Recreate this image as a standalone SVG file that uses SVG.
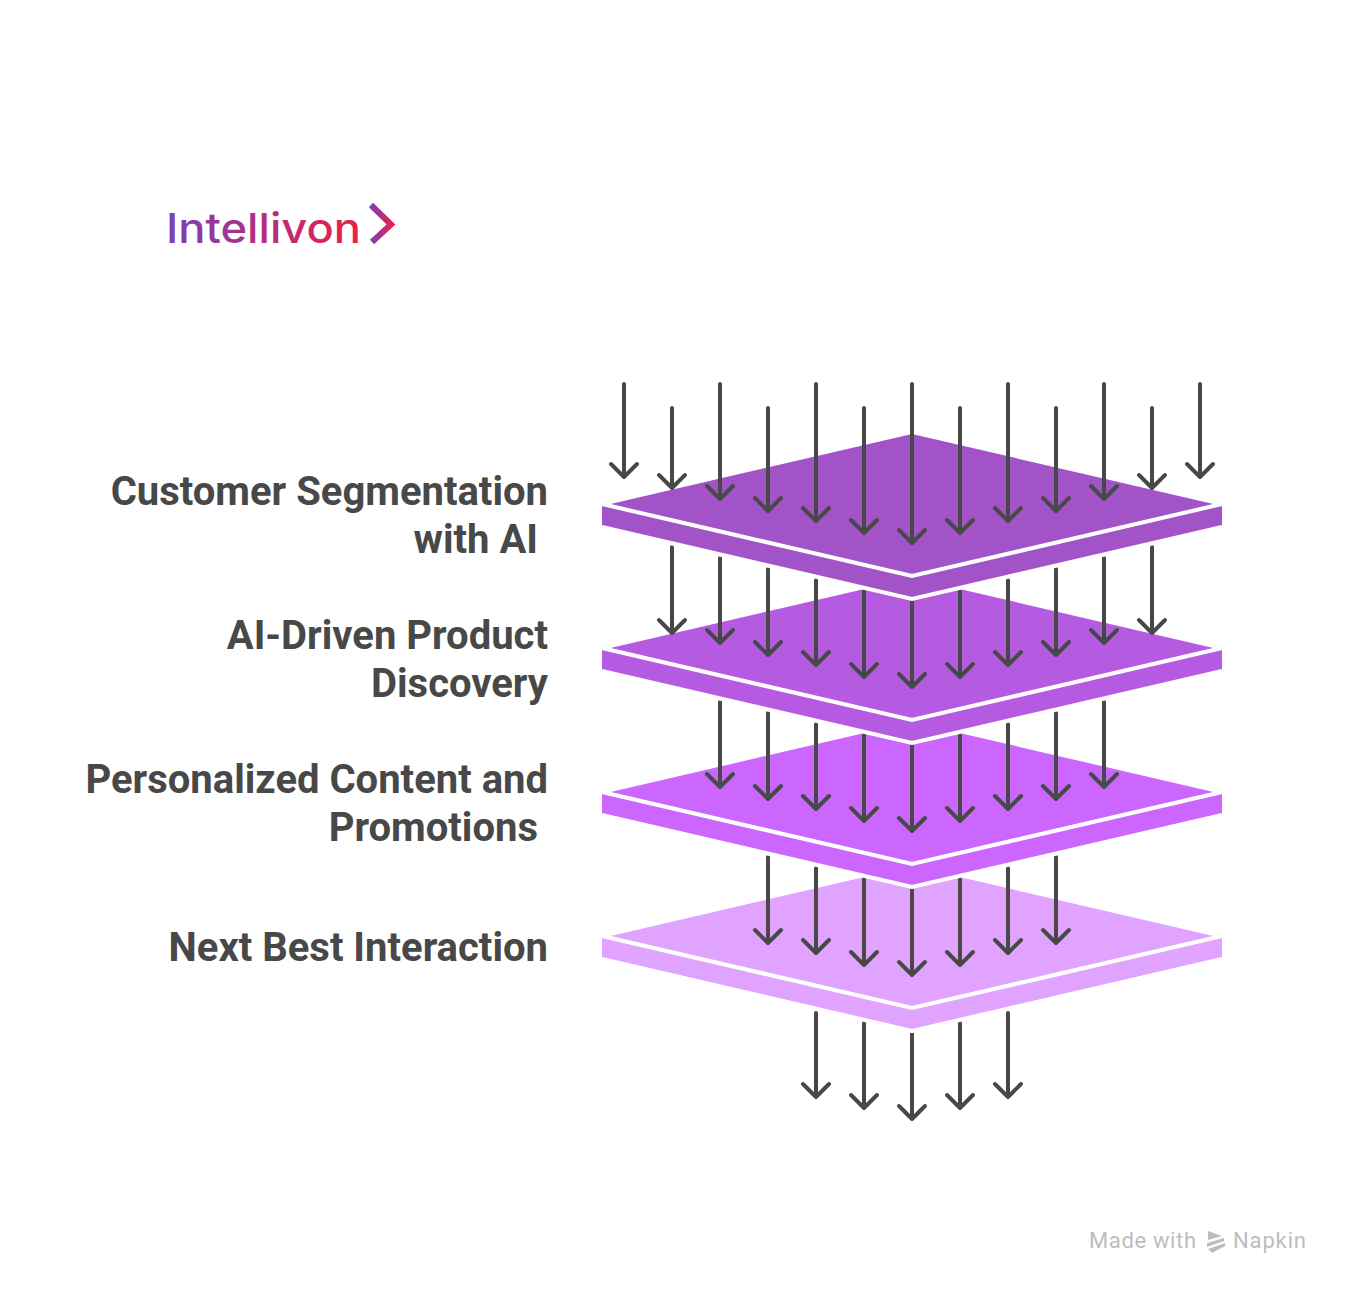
<svg xmlns="http://www.w3.org/2000/svg" width="1355" height="1296" viewBox="0 0 1355 1296">
<style>
.lbl{font-family:Roboto,"Liberation Sans",sans-serif;font-weight:700;font-size:40px;fill:#484848;text-anchor:end}
.wm{font-family:Roboto,"Liberation Sans",sans-serif;font-size:22px;fill:#bdbdbd}
.edge{fill:none;stroke:#fff;stroke-width:4;stroke-linejoin:miter}
.ar{fill:none;stroke:#484848;stroke-width:4;stroke-linecap:round;stroke-linejoin:round}
</style>
<defs>
<linearGradient id="lg" gradientUnits="userSpaceOnUse" x1="167" y1="0" x2="362" y2="0"><stop offset="0" stop-color="#7b3fb8"/><stop offset="1" stop-color="#ec1f46"/></linearGradient>
<linearGradient id="cg" gradientUnits="userSpaceOnUse" x1="370" y1="0" x2="394" y2="0"><stop offset="0" stop-color="#7b3fb8"/><stop offset="1" stop-color="#ec1f46"/></linearGradient>
<g id="plate">
<path d="M912 434L1222 506V526L912 598L602 526V506Z"/>
<path class="edge" d="M602 504L912 576L1222 504"/>
<path class="edge" d="M602 527L912 599L1222 527"/>
</g>
</defs>
<g id="logo">
<text x="166" y="243" font-family="Inter,'Open Sans',sans-serif" font-weight="500" font-size="41" fill="url(#lg)" textLength="195" lengthAdjust="spacingAndGlyphs">Intellivon</text>
<path d="M371 205L391 224.500L372 242" fill="none" stroke="url(#cg)" stroke-width="6" stroke-linejoin="miter"/>
</g>
<g id="labels">
<text class="lbl" x="548" y="505">Customer Segmentation</text>
<text class="lbl" x="538" y="553">with AI</text>
<text class="lbl" x="548" y="649">AI-Driven Product</text>
<text class="lbl" x="548" y="697">Discovery</text>
<text class="lbl" x="548" y="793">Personalized Content and</text>
<text class="lbl" x="538" y="841">Promotions</text>
<text class="lbl" x="548" y="961">Next Best Interaction</text>
</g>
<g id="connectors-5" class="ar">
<path d="M816 1013V1097M803 1084L816 1097L829 1084"/>
<path d="M864 1023V1108M851 1095L864 1108L877 1095"/>
<path d="M912 1034V1119M899 1106L912 1119L925 1106"/>
<path d="M960 1023V1108M947 1095L960 1108L973 1095"/>
<path d="M1008 1013V1097M995 1084L1008 1097L1021 1084"/>
</g>
<g id="plate-4" fill="#e0a3ff"><use href="#plate" y="432"/></g>
<g id="connectors-4" class="ar">
<path d="M768 857V943M755 930L768 943L781 930"/>
<path d="M816 868V953M803 940L816 953L829 940"/>
<path d="M864 879V965M851 952L864 965L877 952"/>
<path d="M912 890V975M899 962L912 975L925 962"/>
<path d="M960 879V965M947 952L960 965L973 952"/>
<path d="M1008 868V953M995 940L1008 953L1021 940"/>
<path d="M1056 857V943M1043 930L1056 943L1069 930"/>
</g>
<g id="plate-3" fill="#cb66ff"><use href="#plate" y="288"/></g>
<g id="connectors-3" class="ar">
<path d="M720 702V787M707 774L720 787L733 774"/>
<path d="M768 713V799M755 786L768 799L781 786"/>
<path d="M816 724V809M803 796L816 809L829 796"/>
<path d="M864 735V821M851 808L864 821L877 808"/>
<path d="M912 746V831M899 818L912 831L925 818"/>
<path d="M960 735V821M947 808L960 821L973 808"/>
<path d="M1008 724V809M995 796L1008 809L1021 796"/>
<path d="M1056 713V799M1043 786L1056 799L1069 786"/>
<path d="M1104 702V787M1091 774L1104 787L1117 774"/>
</g>
<g id="plate-2" fill="#b55be2"><use href="#plate" y="144"/></g>
<g id="connectors-2" class="ar">
<path d="M672 547V633M659 620L672 633L685 620"/>
<path d="M720 558V643M707 630L720 643L733 630"/>
<path d="M768 569V655M755 642L768 655L781 642"/>
<path d="M816 580V665M803 652L816 665L829 652"/>
<path d="M864 591V677M851 664L864 677L877 664"/>
<path d="M912 602V687M899 674L912 687L925 674"/>
<path d="M960 591V677M947 664L960 677L973 664"/>
<path d="M1008 580V665M995 652L1008 665L1021 652"/>
<path d="M1056 569V655M1043 642L1056 655L1069 642"/>
<path d="M1104 558V643M1091 630L1104 643L1117 630"/>
<path d="M1152 547V633M1139 620L1152 633L1165 620"/>
</g>
<g id="plate-1" fill="#a253c8"><use href="#plate"/></g>
<g id="connectors-1" class="ar">
<path d="M624 384V477M611 464L624 477L637 464"/>
<path d="M672 408V488M659 475L672 488L685 475"/>
<path d="M720 384V499M707 486L720 499L733 486"/>
<path d="M768 408V511M755 498L768 511L781 498"/>
<path d="M816 384V521M803 508L816 521L829 508"/>
<path d="M864 408V533M851 520L864 533L877 520"/>
<path d="M912 384V543M899 530L912 543L925 530"/>
<path d="M960 408V533M947 520L960 533L973 520"/>
<path d="M1008 384V521M995 508L1008 521L1021 508"/>
<path d="M1056 408V511M1043 498L1056 511L1069 498"/>
<path d="M1104 384V499M1091 486L1104 499L1117 486"/>
<path d="M1152 408V488M1139 475L1152 488L1165 475"/>
<path d="M1200 384V477M1187 464L1200 477L1213 464"/>
</g>
<g id="watermark">
<text class="wm" x="1089" y="1248" textLength="107">Made with</text>
<path d="M1208 1231L1222 1236L1208 1240Z M1207 1243L1224 1238L1224 1241L1207 1247Z M1208 1249L1225 1243L1225 1246L1212 1253Z" fill="#bdbdbd"/>
<text class="wm" x="1233" y="1248" textLength="73">Napkin</text>
</g>
</svg>
